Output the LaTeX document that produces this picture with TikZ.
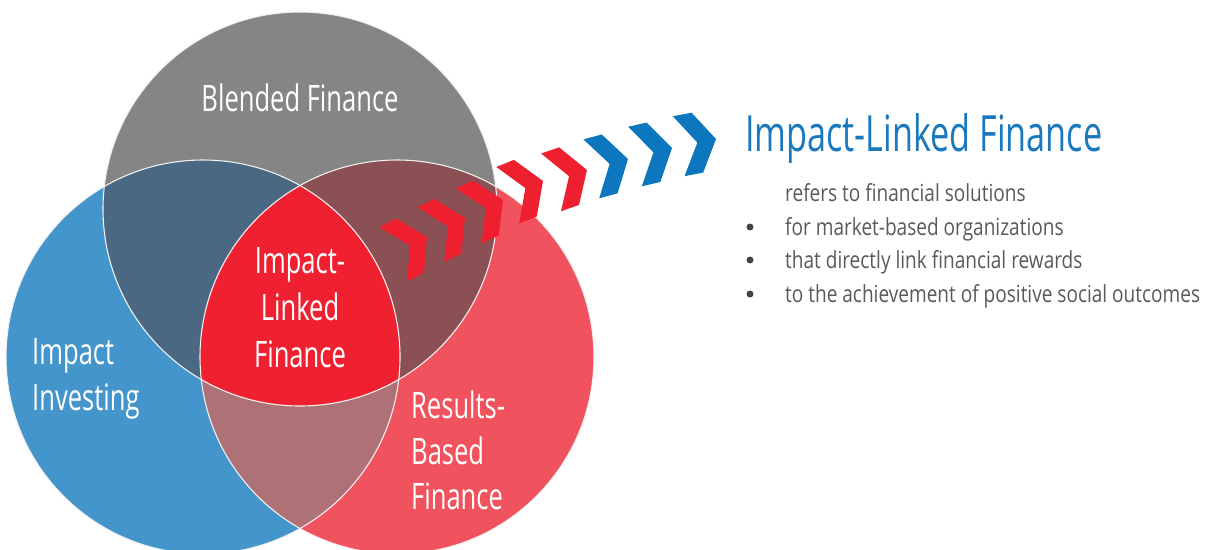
\documentclass[tikz,border=0pt]{standalone}
\usepackage{fontspec}
\newfontfamily\labelfont{Open Sans}[FakeStretch=0.70]
\newfontfamily\titlefont{Open Sans}[FakeStretch=0.684]
\newfontfamily\bodyfont{Open Sans}[FakeStretch=0.81]
\definecolor{cgray}{HTML}{858585}
\definecolor{cblue}{HTML}{4495CB}
\definecolor{cred}{HTML}{F1535E}
\definecolor{cgb}{HTML}{4A6881}
\definecolor{cgr}{HTML}{8A5053}
\definecolor{cbr}{HTML}{AE7176}
\definecolor{ccenter}{HTML}{EF2131}
\definecolor{chred}{HTML}{EE2030}
\definecolor{chblue}{HTML}{0C77BF}
\definecolor{ttlblue}{HTML}{1A78BE}
\definecolor{bodygray}{HTML}{595959}
\definecolor{bulgray}{HTML}{444444}
\tikzset{
  lbl/.style={inner sep=0pt, text=white, font=\labelfont\fontsize{36.5}{46}\selectfont},
  ttl/.style={inner sep=0pt, text=ttlblue, font=\titlefont\fontsize{50}{60}\selectfont},
  bodytxt/.style={inner sep=0pt, text=bodygray, font=\bodyfont\fontsize{23.5}{30}\selectfont},
  bul/.style={circle, fill=bulgray, inner sep=0pt, minimum size=7pt},
  rim/.style={draw=white!88!gray, line width=1.1pt},
  chev/.pic={\fill (-38pt,30.5pt) -- (-19pt,30.5pt) -- (0pt,0pt) -- (-19pt,-30.5pt) -- (-38pt,-30.5pt) -- (-19pt,0pt) -- cycle;}
}
\begin{document}
\begin{tikzpicture}[x=1pt,y=-1pt]
\useasboundingbox (0,0) rectangle (1206,549);
\coordinate (G) at (300,209);
\coordinate (B) at (203,357);
\coordinate (R) at (397,357);
% circles
\fill[cgray] (G) circle (197pt);
\fill[cblue] (B) circle (197pt);
\fill[cred] (R) circle (197pt);
% overlaps
\begin{scope}
  \clip (B) circle (197pt);
  \fill[cbr] (R) circle (197pt);
\end{scope}
\begin{scope}
  \clip (G) circle (197pt);
  \fill[cgb] (B) circle (197pt);
  \fill[cgr] (R) circle (197pt);
  \clip (B) circle (197pt);
  \fill[ccenter] (R) circle (197pt);
\end{scope}
\draw[rim] (G) circle (197pt);
\draw[rim] (B) circle (197pt);
\draw[rim] (R) circle (197pt);
% chevrons
\pic[fill=chred, rotate=27] at (427,237) {chev};
\pic[fill=chred, rotate=26] at (465,218) {chev};
\pic[fill=chred, rotate=25] at (503,200) {chev};
\pic[fill=chred, rotate=22] at (543,181) {chev};
\pic[fill=chred, rotate=19] at (587,170) {chev};
\pic[fill=chblue, rotate=15] at (628,159) {chev};
\pic[fill=chblue, rotate=13] at (672,148) {chev};
\pic[fill=chblue, rotate=11] at (716,139) {chev};
% circle labels
\node[lbl, anchor=base] (bf) at (300,111) {Blended Finance};
\node[lbl, anchor=base] (c1) at (300,273) {Impact-};
\node[lbl, anchor=base] (c2) at (300,320) {Linked};
\node[lbl, anchor=base] (c3) at (300,367) {Finance};
\node[lbl, anchor=base west] (ii1) at (32,364) {Impact};
\node[lbl, anchor=base west] (ii2) at (32,410) {Investing};
\node[lbl, anchor=base west] (rb1) at (411,418) {Results-};
\node[lbl, anchor=base west] (rb2) at (411,464) {Based};
\node[lbl, anchor=base west] (rb3) at (411,509) {Finance};
% right text
\node[ttl, anchor=base west] (t) at (745,151) {Impact-Linked Finance};
\node[bodytxt, anchor=base west] (l0) at (785,201) {refers to financial solutions};
\node[bodytxt, anchor=base west] (l1) at (785,235) {for market-based organizations};
\node[bodytxt, anchor=base west] (l2) at (785,268) {that directly link financial rewards};
\node[bodytxt, anchor=base west] (l3) at (785,302) {to the achievement of positive social outcomes};
\node[bul] (b1) at (750,227) {};
\node[bul] (b2) at (750,260) {};
\node[bul] (b3) at (750,294) {};
\end{tikzpicture}
\end{document}
